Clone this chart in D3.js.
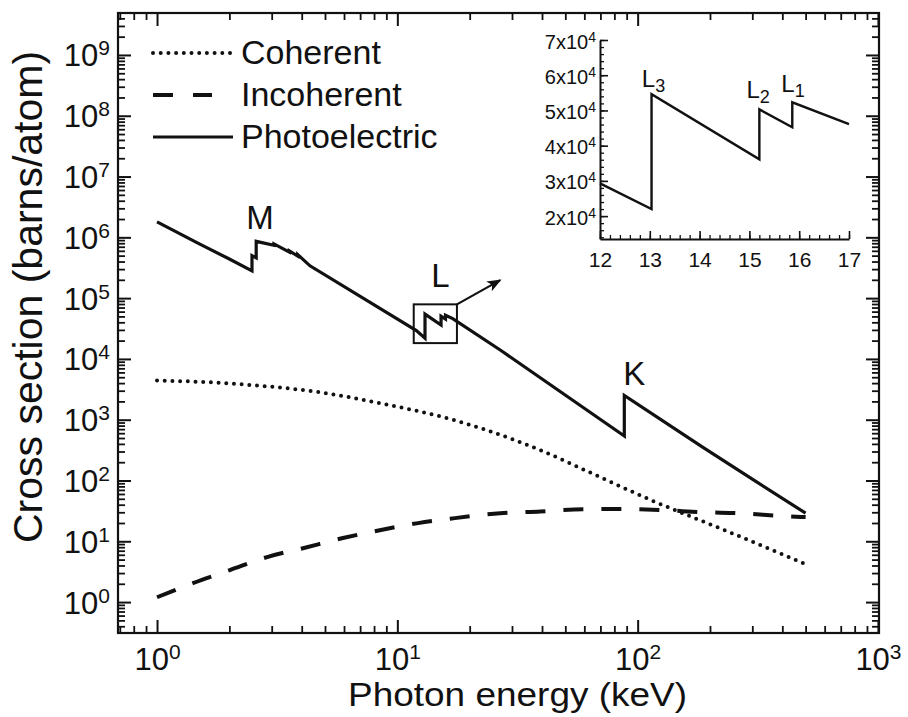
<!DOCTYPE html>
<html>
<head>
<meta charset="utf-8">
<script src="https://cdn.jsdelivr.net/npm/d3@7"></script>
<style>
  body { margin: 0; background: #fff; }
  svg { display: block; font-family: "Liberation Sans", Arial, sans-serif; }
</style>
</head>
<body>
<script>
// photoelectric (edges = repeated energy), keV / barns per atom
const peEnergy = [1, 1.5, 2, 2.484, 2.484, 2.586, 2.586, 3.066, 3.066, 3.554, 3.554, 3.851, 3.851, 4.33,
  12, 13.035, 13.035, 15.2, 15.2, 15.861, 15.861, 17, 26.8, 88.0, 88.0, 187, 300, 500]
const peValue = [1.8e6, 7.8e5, 4.4e5, 2.8e5, 5.0e5, 4.6e5, 8.6e5, 7.4e5, 7.8e5, 5.7e5, 6.0e5, 4.9e5, 5.2e5, 3.4e5,
  2.93e4, 2.2e4, 5.46e4, 3.61e4, 5.03e4, 4.52e4, 5.23e4, 4.61e4, 1.4e4, 5.4e2, 2.5e3, 350, 105, 29]

const cohEnergy = [1, 1.5, 2.5, 4.7, 8.9, 16.7, 30.9, 39.3, 69.7, 113, 170, 249, 500]
const cohValue = [4400, 4200, 3700, 2840, 1800, 1020, 460, 316, 114, 48, 24.7, 13.4, 4.2]

const incEnergy = [1, 1.41, 2.01, 2.87, 4.05, 5.94, 8.45, 12.2, 16.6, 26.8, 39.3, 59.3, 87, 128, 187, 266, 402, 500]
const incValue = [1.2, 2.05, 3.36, 5.5, 7.7, 11.3, 15.2, 19.9, 23.5, 29, 31, 33.8, 34, 32.6, 30, 29, 26, 25]

// inset: L edges, linear axes
const insetEnergy = [12, 13.035, 13.035, 15.2, 15.2, 15.861, 15.861, 17]
const insetValue = [2.93e4, 2.2e4, 5.46e4, 3.61e4, 5.03e4, 4.52e4, 5.23e4, 4.61e4]

const xMajor = [1, 10, 100, 1000]
const yMajor = [1, 10, 100, 1e3, 1e4, 1e5, 1e6, 1e7, 1e8, 1e9]
const insetXTicks = [12, 13, 14, 15, 16, 17]
const insetYTicks = [2e4, 3e4, 4e4, 5e4, 6e4, 7e4]

const legendItems = ["Coherent", "Incoherent", "Photoelectric"]
const edgeLabels = [["M", 2.68, 1.36e6], ["L", 15.1, 1.52e5], ["K", 96.9, 3.7e3]]
const insetLabels = [["L", "3", 12.84, 5.67e4], ["L", "2", 14.94, 5.35e4], ["L", "1", 15.64, 5.52e4]]
const zoomBox = [11.7, 17.7, 1.82e4, 7.9e4]
const arrowTip = [26.8, 1.98e5]

const width = 908
const height = 717

const svg = d3.select("body").append("svg")
  .attr("width", width)
  .attr("height", height)

const x = d3.scaleLog().domain([0.688, 1010]).range([118, 879])
const y = d3.scaleLog().domain([0.31, 4.9e9]).range([633, 13])

// minor ticks 2..9 per decade
function minors(scale) {
  const [a, b] = scale.domain()
  const out = []
  for (let k = Math.floor(Math.log10(a)); k <= Math.ceil(Math.log10(b)); k++) {
    for (let m = 2; m <= 9; m++) {
      const v = m * Math.pow(10, k)
      if (v >= a && v <= b) out.push(v)
    }
  }
  return out
}

function styleAxis(g, w) {
  g.select(".domain").remove()
  g.selectAll(".tick line").attr("stroke", "#111").attr("stroke-width", w)
}

function powText(sel, supDy) {
  sel.each(function(d) {
    const t = d3.select(this)
    t.text("10")
    t.append("tspan").attr("dy", supDy).style("font-size", "21px").text(Math.round(Math.log10(d)))
  })
}

const yBottom = y.range()[0], yTop = y.range()[1]
const xLeft = x.range()[0], xRight = x.range()[1]

// minor ticks, all four sides
svg.append("g").attr("transform", `translate(0,${yBottom})`)
  .call(d3.axisBottom(x).tickValues(minors(x)).tickFormat("").tickSizeInner(-7).tickSizeOuter(0))
  .call(g => styleAxis(g, 1.8))
svg.append("g").attr("transform", `translate(0,${yTop})`)
  .call(d3.axisTop(x).tickValues(minors(x)).tickFormat("").tickSizeInner(-7).tickSizeOuter(0))
  .call(g => styleAxis(g, 1.8))
svg.append("g").attr("transform", `translate(${xLeft},0)`)
  .call(d3.axisLeft(y).tickValues(minors(y)).tickFormat("").tickSizeInner(-7).tickSizeOuter(0))
  .call(g => styleAxis(g, 1.8))
svg.append("g").attr("transform", `translate(${xRight},0)`)
  .call(d3.axisRight(y).tickValues(minors(y)).tickFormat("").tickSizeInner(-7).tickSizeOuter(0))
  .call(g => styleAxis(g, 1.8))

// major ticks
const gx = svg.append("g").attr("transform", `translate(0,${yBottom})`)
  .call(d3.axisBottom(x).tickValues(xMajor).tickSizeInner(-13).tickSizeOuter(0))
  .call(g => styleAxis(g, 2))
gx.selectAll(".tick text")
  .attr("y", 37).attr("dy", null)
  .attr("fill", "#111").style("font-size", "31px")
  .call(powText, -11)

const gy = svg.append("g").attr("transform", `translate(${xLeft},0)`)
  .call(d3.axisLeft(y).tickValues(yMajor).tickSizeInner(-13).tickSizeOuter(0))
  .call(g => styleAxis(g, 2))
gy.selectAll(".tick text")
  .attr("x", -8).attr("y", 11).attr("dy", null)
  .attr("fill", "#111").style("font-size", "31px")
  .call(powText, -11)

svg.append("g").attr("transform", `translate(0,${yTop})`)
  .call(d3.axisTop(x).tickValues(xMajor).tickFormat("").tickSizeInner(-13).tickSizeOuter(0))
  .call(g => styleAxis(g, 2))
svg.append("g").attr("transform", `translate(${xRight},0)`)
  .call(d3.axisRight(y).tickValues(yMajor).tickFormat("").tickSizeInner(-13).tickSizeOuter(0))
  .call(g => styleAxis(g, 2))

// frame
svg.append("rect")
  .attr("x", xLeft).attr("y", yTop)
  .attr("width", xRight - xLeft).attr("height", yBottom - yTop)
  .attr("fill", "none").attr("stroke", "#111").attr("stroke-width", 2.2)

// axis titles
svg.append("text")
  .attr("x", 348).attr("y", 706)
  .attr("textLength", 339).attr("lengthAdjust", "spacingAndGlyphs")
  .style("font-size", "33px").attr("fill", "#111")
  .text("Photon energy (keV)")
svg.append("text")
  .attr("transform", "translate(42,297) rotate(-90)")
  .attr("text-anchor", "middle")
  .style("font-size", "41px").attr("fill", "#111")
  .text("Cross section (barns/atom)")

// curves
const toPts = (es, vs) => es.map((e, i) => [e, vs[i]])
const lineLin = d3.line().x(d => x(d[0])).y(d => y(d[1]))
const lineSmooth = d3.line().x(d => x(d[0])).y(d => y(d[1])).curve(d3.curveMonotoneX)

svg.append("path")
  .datum(toPts(cohEnergy, cohValue))
  .attr("d", lineSmooth)
  .attr("fill", "none").attr("stroke", "#111")
  .attr("stroke-width", 4).attr("stroke-linecap", "round")
  .attr("stroke-dasharray", "0,7.7")

svg.append("path")
  .datum(toPts(incEnergy, incValue))
  .attr("d", lineSmooth)
  .attr("fill", "none").attr("stroke", "#111")
  .attr("stroke-width", 4).attr("stroke-dasharray", "20,18")

svg.append("path")
  .datum(toPts(peEnergy, peValue))
  .attr("d", lineLin)
  .attr("fill", "none").attr("stroke", "#111")
  .attr("stroke-width", 3.2).attr("stroke-linejoin", "miter")

// edge labels
svg.selectAll(".edge")
  .data(edgeLabels)
  .enter()
  .append("text")
  .attr("class", "edge")
  .attr("x", d => x(d[1])).attr("y", d => y(d[2]))
  .attr("text-anchor", "middle")
  .style("font-size", "33px").attr("fill", "#111")
  .text(d => d[0])

// zoom box + arrow
svg.append("defs").append("marker")
  .attr("id", "arrow")
  .attr("viewBox", "0 0 10 10")
  .attr("refX", 9).attr("refY", 5)
  .attr("markerWidth", 6.5).attr("markerHeight", 6.5)
  .attr("markerUnits", "strokeWidth")
  .attr("orient", "auto")
  .append("path").attr("d", "M0,1L10,5L0,9L2.5,5z").attr("fill", "#111")

svg.append("rect")
  .attr("x", x(zoomBox[0])).attr("y", y(zoomBox[3]))
  .attr("width", x(zoomBox[1]) - x(zoomBox[0]))
  .attr("height", y(zoomBox[2]) - y(zoomBox[3]))
  .attr("fill", "none").attr("stroke", "#111").attr("stroke-width", 2)

svg.append("line")
  .attr("x1", x(zoomBox[1])).attr("y1", y(zoomBox[3]))
  .attr("x2", x(arrowTip[0])).attr("y2", y(arrowTip[1]))
  .attr("stroke", "#111").attr("stroke-width", 2.2)
  .attr("marker-end", "url(#arrow)")

// legend
const legend = svg.append("g").attr("id", "legend")
const dashes = ["0,7.7", "20,20", null]
const widths = [4, 4, 3.2]
const sampleEnd = [232, 212, 233]
legendItems.forEach((name, i) => {
  const by = 64 + i * 42
  legend.append("line")
    .attr("x1", 153).attr("x2", sampleEnd[i])
    .attr("y1", by - 11).attr("y2", by - 11)
    .attr("stroke", "#111").attr("stroke-width", widths[i])
    .attr("stroke-linecap", i == 0 ? "round" : "butt")
    .attr("stroke-dasharray", dashes[i])
  legend.append("text")
    .attr("x", 241).attr("y", by)
    .style("font-size", "34px").attr("fill", "#111")
    .text(name)
})

// inset
const xi = d3.scaleLinear().domain([12, 17]).range([600, 849])
const yi = d3.scaleLinear().domain([1.35e4, 7e4]).range([239, 40])
const inset = svg.append("g").attr("id", "inset")

inset.append("g").attr("transform", "translate(0,239)")
  .call(d3.axisBottom(xi).tickValues(d3.range(12, 17.01, 0.2)).tickFormat("").tickSizeInner(-4).tickSizeOuter(0))
  .call(g => styleAxis(g, 1.3))
inset.append("g").attr("transform", "translate(600,0)")
  .call(d3.axisLeft(yi).tickValues(d3.range(1.4e4, 7.01e4, 2e3)).tickFormat("").tickSizeInner(-4).tickSizeOuter(0))
  .call(g => styleAxis(g, 1.3))

const gxi = inset.append("g").attr("transform", "translate(0,239)")
  .call(d3.axisBottom(xi).tickValues(insetXTicks).tickFormat(d3.format("d")).tickSizeInner(-8).tickSizeOuter(0))
gxi.select(".domain").attr("stroke", "#111").attr("stroke-width", 2)
gxi.selectAll(".tick line").attr("stroke", "#111").attr("stroke-width", 1.6)
gxi.selectAll(".tick text")
  .attr("y", 28).attr("dy", null)
  .attr("fill", "#111").style("font-size", "21px")

const gyi = inset.append("g").attr("transform", "translate(600,0)")
  .call(d3.axisLeft(yi).tickValues(insetYTicks).tickSizeInner(-8).tickSizeOuter(0))
gyi.select(".domain").attr("stroke", "#111").attr("stroke-width", 2)
gyi.selectAll(".tick line").attr("stroke", "#111").attr("stroke-width", 1.6)
gyi.selectAll(".tick text")
  .attr("x", -4).attr("y", 8).attr("dy", null)
  .attr("fill", "#111").style("font-size", "20px")
  .each(function(d) {
    const t = d3.select(this)
    t.text(Math.round(d / 1e4) + "x10")
    t.append("tspan").attr("dy", -7).style("font-size", "14px").text("4")
  })

inset.append("path")
  .datum(toPts(insetEnergy, insetValue))
  .attr("d", d3.line().x(d => xi(d[0])).y(d => yi(d[1])))
  .attr("fill", "none").attr("stroke", "#111").attr("stroke-width", 2.4)

inset.selectAll(".ledge")
  .data(insetLabels)
  .enter()
  .append("text")
  .attr("class", "ledge")
  .attr("x", d => xi(d[2])).attr("y", d => yi(d[3]))
  .style("font-size", "24px").attr("fill", "#111")
  .each(function(d) {
    const t = d3.select(this)
    t.text(d[0])
    t.append("tspan").attr("dy", 5).style("font-size", "18px").text(d[1])
  })
</script>
</body>
</html>
